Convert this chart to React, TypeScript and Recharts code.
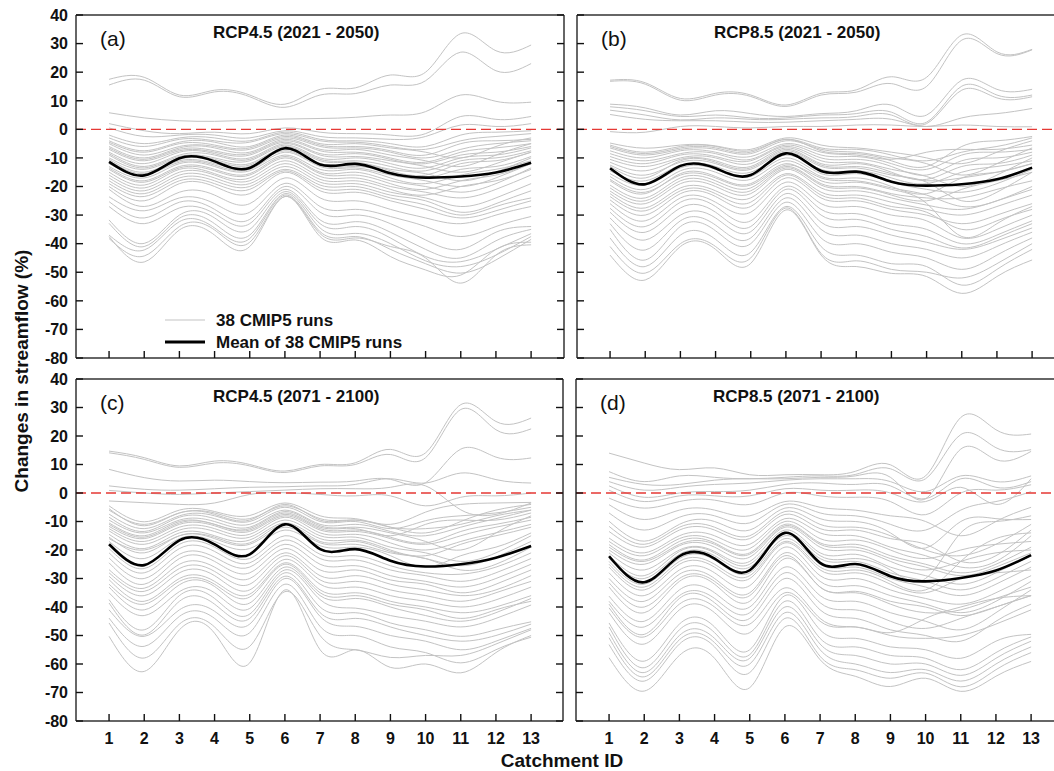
import React from 'react';
import { LineChart, Line, XAxis, YAxis, ReferenceLine } from 'recharts';

// catchment ids on the x axis
const catchments = [1, 2, 3, 4, 5, 6, 7, 8, 9, 10, 11, 12, 13];
const yTicks = [-80, -70, -60, -50, -40, -30, -20, -10, 0, 10, 20, 30, 40];

// RCP4.5 (2021 - 2050): 38 CMIP5 runs
const runsA: number[][] = [
  [17.5, 18.2, 12, 13.7, 12, 8.8, 14, 14.5, 19, 20, 33.5, 27.5, 29.5],
  [15.5, 17.2, 11.4, 13.1, 11.4, 7.7, 12, 12.5, 15.5, 17, 27, 20.5, 23],
  [5.8, 4, 3, 2.8, 3.2, 3.6, 3.8, 4.2, 5, 6.2, 12, 9.8, 9.5],
  [2, -0.5, -1.5, -1, -1.5, 0.5, -1, -1.5, -2, -1.5, 4.5, 3.5, 4.5],
  [0.5, -2.5, -2, -2, -3, -0.5, -2.5, -3, -3.5, -2.5, 1.5, 1, 2],
  [-2, -5, -3, -3, -4, -1, -3.5, -4, -5, -6, -2, -1, -0.5],
  [-3, -6, -3.5, -4, -4.5, -1.5, -4, -4.5, -6, -7, -4, -2.5, -1.5],
  [-4, -7.5, -4.5, -4.5, -6, -2, -5, -5, -6.5, -8, -10, -6, -3],
  [-4.5, -8, -5, -5.5, -6.5, -2.5, -5.5, -6, -7.5, -9, -5, -4, -3.5],
  [-5, -9, -6, -6, -7, -3, -6, -6.5, -8, -10, -7, -5, -4],
  [-6, -10, -6.5, -6.5, -8, -3.5, -7, -7, -9, -11, -13, -9, -5],
  [-6.5, -10.5, -7, -7.5, -8.5, -4, -7.5, -8, -10, -11.5, -8, -6.5, -5],
  [-7, -11, -7.5, -8, -9, -4.5, -8.5, -8.5, -10.5, -12, -9, -8, -6],
  [-8, -12, -8, -8.5, -10, -5, -9, -9.5, -11, -13, -15, -12, -8],
  [-8.5, -13, -9, -9, -10.5, -5.5, -10, -10, -12, -13.5, -10, -9, -6.5],
  [-9, -13.5, -9.5, -10, -11, -6, -10.5, -11, -13, -14.5, -11, -10, -7.5],
  [-10, -14, -10, -10.5, -12, -6.5, -11, -11.5, -14, -15.5, -18, -15, -10],
  [-10.5, -15, -10.5, -11, -12.5, -7, -12, -12, -14.5, -16, -12, -11, -8],
  [-11, -15.5, -11, -12, -13, -7.5, -12.5, -13, -15, -17, -14, -13, -9.5],
  [-12, -16, -11.5, -12.5, -14, -8, -13, -13.5, -16, -18, -20, -17, -12],
  [-13, -17, -12, -13, -14.5, -9, -14, -14, -17, -19, -16, -14, -11],
  [-13.5, -18, -13, -14, -15.5, -9.5, -15, -15, -18, -20, -22, -19, -13.5],
  [-14, -18.5, -13.5, -14.5, -16, -10, -15.5, -16, -19, -21, -18, -16, -12],
  [-15, -19.5, -14, -15.5, -17, -11, -16.5, -17, -20, -22, -24, -21, -16],
  [-16, -20.5, -15, -16, -18, -12, -17.5, -18, -21, -23, -20, -18, -14],
  [-17, -21.5, -16, -17, -19, -13, -18.5, -19, -22, -24, -27, -24, -19],
  [-18, -22.5, -17, -18, -20, -14, -19.5, -20, -23, -25, -29, -26, -21.5],
  [-19, -23.5, -18, -19, -21, -14.5, -20.5, -21, -24, -26.5, -30, -27, -24],
  [-20, -25, -19, -20, -22.5, -15, -21.5, -22, -25, -28, -31, -28.5, -25],
  [-21, -27, -22, -23, -26, -17, -24, -25, -28, -31, -33, -30, -27],
  [-23.6, -28.5, -24, -26, -29, -18.9, -27, -28, -30.5, -34, -37.5, -34, -30.5],
  [-25.3, -31, -25.5, -28, -31.5, -20, -29, -30, -33, -38.7, -42, -36, -34],
  [-27, -33, -27.5, -29.5, -33, -21, -31.7, -32.3, -36, -42, -45, -39, -35],
  [-31.7, -39.9, -30, -31, -35, -21.8, -33, -34, -38, -44.5, -46.3, -42, -36.5],
  [-32.9, -41, -31.1, -33, -37, -22.5, -34.5, -36.4, -40, -46, -48, -44, -37.5],
  [-37, -42.2, -32.3, -34.5, -38.2, -23, -35.8, -37.5, -42, -47, -50.3, -45.7, -38.5],
  [-38.2, -44.3, -34, -35.2, -39.5, -23.5, -36.5, -38, -41, -45, -53.8, -44, -40.4],
  [-37.5, -46.4, -35.2, -37, -41, -23.5, -37.5, -38.7, -44.5, -49.2, -51, -42, -39.5],
];
const meanA = [-11.4, -16.1, -10.1, -11.2, -13.5, -6.6, -12.3, -12.1, -15.4, -16.9, -16.5, -15.1, -11.7];

// RCP8.5 (2021 - 2050)
const runsB: number[][] = [
  [17.2, 16.3, 10.8, 12.6, 12, 8.5, 12.6, 13.8, 18.4, 18.2, 33, 27.1, 28],
  [16.8, 15.8, 10.2, 12, 11.5, 8, 12, 13, 16, 15, 31.2, 26.5, 27.8],
  [8.8, 7.5, 5, 6.5, 5.5, 4.5, 5.5, 6.5, 8.5, 5, 17.2, 14, 14],
  [7.9, 6.5, 4.5, 5, 4, 4, 5, 5.5, 6, 2.5, 15.1, 12, 12],
  [6.7, 5, 3.3, 4, 3.5, 3.5, 4, 4.5, 5, 2, 13.7, 11, 11.4],
  [5.2, 3.5, 3, 3, 2.5, 2.5, 3, 3.5, 3.5, 1, 4, 5.5, 7.3],
  [-0.8, -1, 1, 1, 0.5, 1, 1, 1.5, 1.5, 1, 1.5, 1, 0.9],
  [-4.8, -6.6, -5.5, -5.8, -7, -3, -5.5, -6.5, -8, -10, -12, -8, -4],
  [-5.5, -8, -6, -6, -7.5, -3.5, -6.5, -7, -9, -11, -8, -6, -3],
  [-6.5, -9, -7, -7, -8.5, -4, -7, -8, -10, -12, -16, -12, -6.5],
  [-7.5, -10, -7.5, -8, -9.5, -5, -8, -9, -10.5, -8, -7, -7, -5.5],
  [-8.5, -11, -8.5, -8.5, -10.5, -5.5, -9, -9.5, -12, -14, -9, -8, -7],
  [-9.5, -12, -9, -9.5, -11, -6, -10, -10.5, -13, -16, -11, -10, -8],
  [-10.5, -13, -10, -10, -12, -6.5, -11, -11.5, -14, -16.5, -20, -16, -10],
  [-11.5, -14.5, -10.5, -11, -13, -7, -12, -12, -15, -17.5, -13, -12, -9],
  [-12.5, -16, -11.5, -12, -14, -8, -13, -13.5, -16, -18.5, -25, -22, -15],
  [-14.5, -18, -12.5, -13, -15, -9, -14, -14.5, -17, -19, -15, -13, -11],
  [-15.5, -19.5, -13.5, -14, -16.5, -10, -15.5, -15.5, -18.5, -21, -22, -19, -14],
  [-16.5, -21, -14.5, -15, -17.5, -11, -16.5, -17, -20, -22.5, -17, -15, -12],
  [-18, -22.5, -15.5, -16.5, -19, -12, -18, -18.5, -21, -25.9, -37.5, -33, -27],
  [-19.5, -24, -17, -18, -20.5, -13, -19, -20, -22.5, -24, -24, -21, -18],
  [-21.6, -26, -19, -20, -22.5, -14, -20.5, -21.5, -24, -26.5, -28, -25, -21],
  [-22.5, -27.5, -20.5, -21.5, -24, -15.5, -22, -23, -25.5, -28, -30, -27, -23],
  [-24.7, -30, -22.5, -23.5, -27, -17, -24, -25, -28, -30, -33, -30, -26],
  [-26, -32, -24, -25.5, -29, -18.5, -26, -27, -30, -32, -38, -35, -30],
  [-27.6, -34, -25.5, -27, -32, -20, -28, -29.5, -33, -35, -40, -37, -32],
  [-29, -36, -27.5, -29, -34, -21, -30, -31.5, -35, -37.5, -41.5, -38, -33],
  [-31, -38.7, -30, -31, -35.8, -22.5, -32.5, -34, -37, -39.5, -42, -39, -34.5],
  [-33, -42.2, -32, -33.5, -38, -24, -35, -37, -40, -42, -45, -41, -36],
  [-35, -45.7, -34, -35.5, -40, -25.5, -38, -40, -43, -45, -49, -44, -38],
  [-38, -48, -37, -38.5, -43, -27, -41, -44, -47, -48, -54.5, -49, -42],
  [-41, -50.3, -40, -41, -45, -27.5, -43.4, -46, -49, -50, -52, -47, -40],
  [-44, -52.7, -41, -42, -46.9, -28.2, -44, -48, -50.4, -51.5, -57.4, -51.5, -45.7],
  [-6, -8.5, -6.5, -6.5, -8, -3.5, -7.5, -8.5, -11, -13, -6, -4, -2.5],
  [-13, -17, -11, -11.5, -13.5, -7.5, -12.5, -13, -15.5, -18, -17, -15, -12],
  [-17.5, -22, -16, -17, -19.5, -12.5, -17, -18, -20.5, -23, -27, -25, -20],
  [-20.5, -25, -18, -19, -21.5, -13.5, -19.5, -20.5, -23, -25, -21, -18, -15],
  [-23.5, -28.5, -21.5, -22.5, -25.5, -16, -23, -24, -27, -29, -35, -32, -28],
];
const meanB = [-13.6, -19.2, -12.8, -13.6, -16, -8.4, -14.6, -14.8, -18.3, -19.7, -19.2, -17.5, -13.4];

// RCP4.5 (2071 - 2100)
const runsC: number[][] = [
  [14.7, 12.4, 9.5, 11.2, 10, 7.7, 10, 10.6, 15.3, 14.1, 31, 25.1, 26.3],
  [14.1, 11.8, 9, 10.5, 9.5, 7.2, 9.5, 10, 13.5, 12.4, 29.3, 22.2, 22.5],
  [8.3, 5.4, 4.2, 4.5, 4, 3.6, 3.8, 4.2, 4.8, 3.6, 15.4, 12.6, 12.3],
  [2.5, 1.3, 1, 1.5, 2, 2.2, 2.5, 3, 5, 3.5, 7, 4.7, 3.5],
  [0.9, 0, -0.5, 0, 0.5, 1, 1.5, 1.5, 2, 2.5, -5.9, -7.5, -3.5],
  [-2.8, -3.4, -4, -3.5, -0.5, 0.1, -0.5, -1, -1, -4.5, -1.5, -1, 0],
  [-4.5, -10.1, -6, -6.5, -7.9, -3.5, -8, -9, -11, -6.7, -4, -3.5, -3.3],
  [-6, -11, -7, -7, -9, -4.5, -9, -9.5, -12, -14, -10, -6, -4],
  [-7.4, -12.5, -8, -8, -10, -5, -10, -10, -12.5, -9.7, -8, -7, -5],
  [-8.5, -13.5, -8.5, -9, -11, -6, -11, -11, -13.5, -15, -12, -9, -6],
  [-9.5, -14, -9.5, -10, -12, -6.5, -11.5, -12, -14, -17, -20, -14, -8],
  [-10.5, -15, -10, -11, -12.5, -7, -12, -12.5, -15, -11, -9.5, -9.5, -7],
  [-11.7, -16, -11, -11.5, -13.5, -8, -13, -13.5, -16, -18, -15, -12, -9.5],
  [-12.5, -17, -12, -12.5, -14.5, -8.5, -14, -14.5, -17.5, -20, -17, -14, -11],
  [-13.3, -18, -13, -13.5, -15.5, -9.5, -15, -15.5, -19, -21, -24, -21, -15],
  [-14.5, -19.5, -14, -15, -16.5, -10.5, -16, -16.5, -20, -22, -18, -15, -12],
  [-15.5, -21, -15, -16, -18, -12, -17.5, -18, -21, -23, -27, -25, -19],
  [-17, -23, -16, -17, -19.5, -13, -18.5, -19, -22, -26, -22, -19, -14],
  [-19.5, -26.5, -18, -19, -23, -15, -21.5, -22, -25.5, -28, -28.5, -26, -21],
  [-21, -28, -19.5, -20.5, -24.5, -16.5, -23, -23.5, -27, -29, -31, -28, -23],
  [-22.8, -30, -21.5, -22.5, -26, -18, -25, -25.5, -29, -31, -33, -30, -25],
  [-24.5, -32, -23, -24, -28, -19.5, -27, -27, -30.5, -32, -35, -32, -27],
  [-26.9, -33.4, -25, -26, -30, -21, -29, -29, -32, -34, -36, -34, -29],
  [-28, -34.5, -26.5, -27.5, -32, -22, -30.5, -31, -34, -36, -38, -35, -31],
  [-29.2, -36, -28, -29, -34, -23.3, -32, -33, -36, -38, -40, -37.5, -33],
  [-30.4, -38, -30, -31, -35.5, -24.5, -34, -35, -38, -40, -42, -40, -36],
  [-33, -41, -32.2, -32.8, -38.6, -26, -36, -37, -40, -43, -45, -42, -37],
  [-35, -43, -34.6, -35, -40.5, -27, -37.4, -40.4, -43, -45, -47, -44, -39.3],
  [-37.4, -48, -36, -37, -42.5, -28, -40, -42, -45.6, -48, -50.3, -48, -45.2],
  [-38.6, -49.8, -38, -39, -44, -29.2, -42, -44, -47, -50, -52, -50, -46],
  [-41, -50.3, -41, -41.5, -46, -30, -43.3, -46.8, -50, -52, -55, -52, -47.5],
  [-43.9, -53.8, -43.3, -44, -49, -32, -46.8, -50, -54, -56, -59.6, -55, -50.6],
  [-45.6, -57.9, -46, -47, -53.8, -34.6, -50, -55, -57.7, -57, -57, -53, -48],
  [-50.3, -62.6, -48, -49.2, -59.6, -34, -55, -55, -61.2, -60, -63.1, -56, -50],
  [-16, -20, -15, -15.5, -17.5, -11, -17, -17, -20.5, -23, -25.5, -22.5, -17],
  [-5.5, -11.5, -7, -7.5, -9.5, -4, -9.5, -9.5, -12, -12.5, -11, -8, -6],
  [-11, -15.5, -10.5, -11, -13, -7.5, -12.5, -13, -15.5, -17.5, -13.5, -11, -8.5],
  [-32, -39, -31, -32, -36.5, -25, -35, -36, -39, -41, -44, -41, -38],
];
const meanC = [-18, -25.3, -16.6, -18, -21.5, -11, -19.7, -19.7, -23.8, -25.8, -25, -22.7, -18.6];

// RCP8.5 (2071 - 2100)
const runsD: number[][] = [
  [14, 10.5, 8.2, 8.8, 6.4, 6.4, 6.4, 7.6, 9.9, 6, 26.5, 22.2, 20.7],
  [7.5, 4, 6, 5.5, 5, 5.5, 6, 6.5, 8.5, 5, 20.5, 15.9, 15.2],
  [5.5, 3, 3, 4.5, 5, 5, 5.5, 6, 5.5, -2, 15.4, 11.7, 14.6],
  [4, 1, 2, 3, 3.5, 4.5, 5, 5, 4, 0.5, 6, 4, 6],
  [2.5, -1.5, 0, 0.5, 1, 3, 3.5, 3, 2.5, -2, 5, 2, 4],
  [1, -3, -1, -1, -1, 1.5, 1, 1, 0, -3, 2, -4, 5],
  [-1.8, -5.3, -3, -2.5, -4, 0, -1, -1.5, -3, -7.6, 0, 1, 2.9],
  [-4.1, -9.3, -6, -6, -8, -3, -5, -6, -8, -10, -15, -10, -5],
  [-9.9, -16.9, -11, -10, -13, -5.3, -9, -10, -14, -19.3, -10, -9, -9.3],
  [-11.7, -18, -12, -12, -15, -6.5, -11, -12, -15, -20, -22, -18, -11],
  [-13.5, -19, -13, -13, -16, -7.5, -12.5, -13, -16, -18, -24, -22, -13],
  [-15.8, -21, -15, -15, -18, -9, -14, -15, -19, -22, -26, -24, -15],
  [-17, -22, -16, -16.5, -19.5, -10, -16, -16.5, -20, -23, -20, -18, -17],
  [-18.1, -23.5, -17, -17.5, -21, -11, -17.5, -18, -22, -25, -28, -25, -19],
  [-20, -25, -18.5, -19, -22.5, -12, -19, -20, -24, -27, -24, -21, -20],
  [-21, -27, -20, -20.5, -24, -13, -21, -21.5, -26, -29, -32, -28, -22],
  [-23, -30, -21.5, -22, -26, -15, -23, -24, -28, -31, -34, -30, -24],
  [-24, -32, -23, -23.5, -28, -16, -25, -26, -30, -33, -36, -32, -26],
  [-26, -34, -25, -26, -30, -17.5, -27, -28, -32, -35, -30, -28, -27],
  [-28, -36, -27, -28, -32.5, -19, -29, -30, -34, -37, -39, -35, -29],
  [-30, -38, -28.5, -30, -35, -21, -31, -32.5, -36, -39, -42, -38, -31],
  [-36.2, -45, -34, -35, -40, -26, -36, -38, -42, -45, -48, -42, -34],
  [-38, -47, -36, -37, -42, -28, -38.5, -41, -45, -47.5, -44, -40, -36],
  [-39, -49.6, -37, -38.5, -44, -30, -41, -44, -48, -50, -52, -45, -39],
  [-40.3, -50.5, -39, -40, -46, -33.3, -44, -47, -50, -51, -50, -46, -41],
  [-45.6, -59, -46, -47, -55, -36, -48, -51, -54, -55, -58, -52, -49.6],
  [-47, -61.3, -48, -49, -56.7, -38, -51, -54, -57, -58, -62, -56, -50.5],
  [-49, -63, -50, -51, -58, -40, -53, -57, -60, -60, -64, -58, -52],
  [-50.8, -64.5, -51.5, -52.5, -60, -42, -55, -60, -63, -62, -66, -60, -54],
  [-53.2, -66, -53, -54, -63, -44, -57.3, -62, -65, -63.2, -68, -62, -56],
  [-57.8, -69.5, -57, -58, -68.3, -47, -58.5, -64.3, -67.9, -65, -69.6, -64.3, -59.1],
  [-7, -13, -8.5, -8, -10.5, -4, -7, -8, -11, -13, -6, -3, 0.5],
  [-22, -29, -20.5, -21, -25, -14, -22, -23, -27, -30, -14, -10, -8],
  [-25, -33, -24, -25, -29, -17, -26, -27, -31, -34, -24, -16, -14],
  [-33, -42, -31, -32, -38, -23, -33, -35, -39, -42, -41, -37, -33],
  [-42, -53, -41, -42, -49, -35, -45, -47, -49, -44, -40, -37, -36],
  [-31.5, -40, -30, -31, -36, -22, -33, -34.5, -38, -40, -43, -40, -36],
  [-19, -24, -18, -18, -21.5, -11.5, -18, -19, -23, -26, -29, -26, -21],
];
const meanD = [-22.2, -31.3, -22.2, -23, -27.1, -14, -24.5, -24.9, -29.2, -31, -29.8, -27.2, -21.8];

const FONT = "Arial, 'Liberation Sans', Helvetica, sans-serif";
const X_MIN = 0.06;
const PX_PER_ID = 35.17;
const TICK = 7;
const FRAME = '#333';
const RUN_COLOR = '#c3c3c3';

const buildRows = (runs: number[][], mean: number[]) =>
  catchments.map((id, i) => {
    const row: Record<string, number> = { id, mean: mean[i] };
    runs.forEach((r, k) => {
      row[`r${k}`] = r[i];
    });
    return row;
  });

type PanelProps = {
  runs: number[][];
  mean: number[];
  left: number;
  top: number;
  yAxisW: number;
  plotW: number;
  marginTop: number;
  plotH: number;
  xAxisH: number;
  yLabels: boolean;
  xLabels: boolean;
  rightFrame: boolean;
};

const Panel = ({ runs, mean, left, top, yAxisW, plotW, marginTop, plotH, xAxisH, yLabels, xLabels, rightFrame }: PanelProps) => {
  const data = buildRows(runs, mean);
  const rightPad = rightFrame ? 2 : 0;
  const w = yAxisW + plotW + rightPad;
  const h = marginTop + plotH + xAxisH;
  const xMax = X_MIN + plotW / PX_PER_ID;

  const yTick = (props: any) => {
    const { x, y, payload } = props;
    return (
      <g>
        <line x1={x} y1={y} x2={x + TICK} y2={y} stroke="#111" strokeWidth={1.4} />
        {rightFrame && <line x1={x + plotW - TICK} y1={y} x2={x + plotW} y2={y} stroke="#111" strokeWidth={1.4} />}
        {yLabels && (
          <text x={x - 8} y={y} dy="0.36em" textAnchor="end" fontFamily={FONT} fontWeight="bold" fontSize={16} fill="#111">
            {payload.value}
          </text>
        )}
      </g>
    );
  };

  const xTick = (props: any) => {
    const { x, y, payload } = props;
    return (
      <g>
        <line x1={x} y1={y} x2={x} y2={y - TICK} stroke="#111" strokeWidth={1.4} />
        {xLabels && (
          <text x={x} y={y + 23} textAnchor="middle" fontFamily={FONT} fontWeight="bold" fontSize={16} fill="#111">
            {payload.value}
          </text>
        )}
      </g>
    );
  };

  return (
    <div style={{ position: 'absolute', left, top, width: w, height: h }}>
      <LineChart width={w} height={h} data={data} margin={{ top: marginTop, right: rightPad, bottom: 0, left: 0 }}>
        <XAxis
          dataKey="id"
          type="number"
          domain={[X_MIN, xMax]}
          ticks={catchments}
          interval={0}
          allowDataOverflow
          height={xAxisH}
          tickSize={0}
          tickMargin={0}
          tick={xTick}
          axisLine={{ stroke: FRAME, strokeWidth: 1.5 }}
        />
        <YAxis
          type="number"
          domain={[-80, 40]}
          ticks={yTicks}
          interval={0}
          allowDataOverflow
          width={yAxisW}
          tickSize={0}
          tickMargin={0}
          tick={yTick}
          axisLine={{ stroke: FRAME, strokeWidth: 1.5 }}
        />
        {runs.map((_, k) => (
          <Line
            key={`run-${k}`}
            type="natural"
            dataKey={`r${k}`}
            stroke={RUN_COLOR}
            strokeWidth={1}
            dot={false}
            activeDot={false}
            isAnimationActive={false}
          />
        ))}
        <ReferenceLine y={0} stroke="#e53935" strokeWidth={1.4} strokeDasharray="10 5" ifOverflow="visible" />
        <ReferenceLine y={40} stroke={FRAME} strokeWidth={1.5} ifOverflow="visible" />
        {rightFrame && <ReferenceLine x={xMax} stroke={FRAME} strokeWidth={1.5} ifOverflow="visible" />}
        <Line
          type="natural"
          dataKey="mean"
          stroke="#000"
          strokeWidth={2.6}
          dot={false}
          activeDot={false}
          isAnimationActive={false}
        />
      </LineChart>
    </div>
  );
};

const titles = ['RCP4.5 (2021 - 2050)', 'RCP8.5 (2021 - 2050)', 'RCP4.5 (2071 - 2100)', 'RCP8.5 (2071 - 2100)'];
const tags = ['(a)', '(b)', '(c)', '(d)'];
const panelOrigins = [
  [76, 15],
  [577, 15],
  [76, 379],
  [576, 379],
];

export default function App() {
  return (
    <div
      style={{
        position: 'fixed',
        left: 0,
        top: 0,
        width: 1054,
        height: 771,
        overflow: 'hidden',
        background: '#fff',
        fontFamily: FONT,
      }}
    >
      <Panel runs={runsA} mean={meanA} left={0} top={0} yAxisW={76} plotW={488} marginTop={15} plotH={343} xAxisH={12} yLabels xLabels={false} rightFrame />
      <Panel runs={runsB} mean={meanB} left={557} top={0} yAxisW={20} plotW={477} marginTop={15} plotH={343} xAxisH={12} yLabels={false} xLabels={false} rightFrame={false} />
      <Panel runs={runsC} mean={meanC} left={0} top={366} yAxisW={76} plotW={487} marginTop={13} plotH={342} xAxisH={34} yLabels xLabels rightFrame />
      <Panel runs={runsD} mean={meanD} left={556} top={366} yAxisW={20} plotW={478} marginTop={13} plotH={342} xAxisH={34} yLabels={false} xLabels rightFrame={false} />

      <svg width={1054} height={771} style={{ position: 'absolute', left: 0, top: 0, pointerEvents: 'none' }}>
        {panelOrigins.map(([px, py], i) => (
          <g key={tags[i]}>
            <text x={px + 24} y={py + 31} fontFamily={FONT} fontSize={21} fill="#111">
              {tags[i]}
            </text>
            <text x={px + 137} y={py + 23} fontFamily={FONT} fontWeight="bold" fontSize={17} fill="#111">
              {titles[i]}
            </text>
          </g>
        ))}

        {/* legend in panel (a) */}
        <line x1={165} y1={320} x2={205} y2={320} stroke={RUN_COLOR} strokeWidth={1.2} />
        <text x={216} y={326} fontFamily={FONT} fontWeight="bold" fontSize={17} fill="#111">
          38 CMIP5 runs
        </text>
        <line x1={165} y1={342} x2={205} y2={342} stroke="#000" strokeWidth={3} />
        <text x={216} y={348} fontFamily={FONT} fontWeight="bold" fontSize={17} fill="#111">
          Mean of 38 CMIP5 runs
        </text>

        <text
          transform="translate(28, 371) rotate(-90)"
          textAnchor="middle"
          fontFamily={FONT}
          fontWeight="bold"
          fontSize={19}
          fill="#111"
        >
          Changes in streamflow (%)
        </text>
        <text x={562} y={767} textAnchor="middle" fontFamily={FONT} fontWeight="bold" fontSize={19} fill="#111">
          Catchment ID
        </text>
      </svg>
    </div>
  );
}
